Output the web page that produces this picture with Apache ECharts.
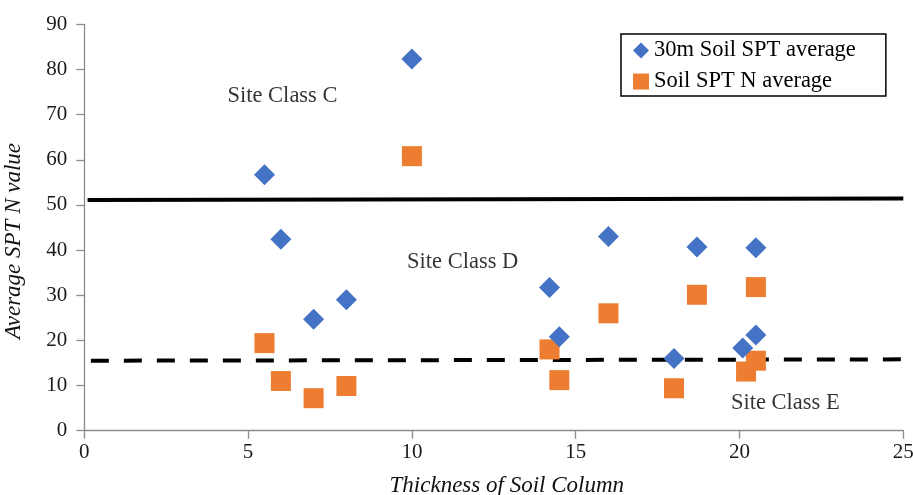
<!DOCTYPE html>
<html>
<head>
<meta charset="utf-8">
<script src="https://cdn.jsdelivr.net/npm/echarts@6/dist/echarts.min.js"></script>
<style>
  html, body { margin: 0; padding: 0; background: #fff; }
  #chart { width: 913px; height: 495px; }
</style>
</head>
<body>
<div id="chart"></div>
<script>
// Thickness of soil column (m) vs. average SPT N value
const spt30mAvg = [
  [5.5, 56.7], [6.0, 42.4], [7.0, 24.7], [8.0, 29.0], [10.0, 82.3],
  [14.2, 31.7], [14.5, 20.8], [16.0, 43.0], [18.0, 16.0], [18.7, 40.7],
  [20.1, 18.3], [20.5, 21.2], [20.5, 40.5]
];
const soilNAvg = [
  [5.5, 19.4], [6.0, 11.0], [7.0, 7.2], [8.0, 9.9], [10.0, 60.8],
  [14.2, 18.0], [14.5, 11.2], [16.0, 26.0], [18.0, 9.4], [18.7, 30.1],
  [20.2, 13.1], [20.5, 15.5], [20.5, 31.8]
];
// Site class boundaries (N = 50 and N = 15)
const classCBoundary = [[0.1, 51.1], [25, 51.4]];
const classEBoundary = [[0.2, 15.5], [25, 15.8]];
// Site class labels placed in data coordinates
const classLabels = [
  { value: [6.05, 74.1], name: 'Site Class C' },
  { value: [11.55, 37.4], name: 'Site Class D' },
  { value: [21.4, 6.1], name: 'Site Class E' }
];
const xTicks = [0, 5, 10, 15, 20, 25];
const yTicks = [0, 10, 20, 30, 40, 50, 60, 70, 80, 90];

const serif = '"Liberation Serif", "DejaVu Serif", serif';
const axisGray = '#8c8c8c';

const chart = echarts.init(document.getElementById('chart'), null, { renderer: 'canvas' });
chart.setOption({
  animation: false,
  backgroundColor: '#fff',
  grid: {
    left: 84.3, right: 9.7, top: 24.3, bottom: 64.3,
    containLabel: false, outerBoundsMode: 'none'
  },
  legend: {
    data: ['30m Soil SPT average', 'Soil SPT N average'],
    orient: 'vertical',
    left: 621, top: 34,
    padding: [5, 30, 3, 12],
    itemGap: 8,
    itemWidth: 16, itemHeight: 16,
    borderColor: '#000', borderWidth: 1.5,
    textStyle: { fontFamily: serif, fontSize: 22.5, color: '#000', lineHeight: 22 }
  },
  xAxis: {
    type: 'value',
    min: xTicks[0], max: xTicks[xTicks.length - 1], interval: 5,
    name: 'Thickness of Soil Column',
    nameLocation: 'middle', nameGap: 44,
    nameTextStyle: {
      fontFamily: serif, fontSize: 23, fontStyle: 'italic', color: '#111',
      padding: [0, 0, 0, 26]
    },
    axisLine: { show: true, onZero: false, lineStyle: { color: axisGray, width: 1.3 } },
    axisTick: { show: true, length: 8, lineStyle: { color: axisGray, width: 1.3 } },
    axisLabel: { fontFamily: serif, fontSize: 21, color: '#1a1a1a', margin: 11 },
    splitLine: { show: false }
  },
  yAxis: {
    type: 'value',
    min: yTicks[0], max: yTicks[yTicks.length - 1], interval: 10,
    name: 'Average SPT N value',
    nameLocation: 'middle', nameGap: 59,
    nameTextStyle: {
      fontFamily: serif, fontSize: 23, fontStyle: 'italic', color: '#111',
      padding: [0, 27, 0, 0]
    },
    axisLine: { show: true, lineStyle: { color: axisGray, width: 1.3 } },
    axisTick: { show: true, length: 8, lineStyle: { color: axisGray, width: 1.3 } },
    axisLabel: { fontFamily: serif, fontSize: 21, color: '#1a1a1a', margin: 17 },
    splitLine: { show: false }
  },
  series: [
    {
      name: 'classC', type: 'line', data: classCBoundary, symbol: 'none',
      lineStyle: { color: '#000', width: 4 }, silent: true, z: 1
    },
    {
      name: 'classE', type: 'line', data: classEBoundary, symbol: 'none',
      lineStyle: { color: '#000', width: 4, type: [18, 15] }, silent: true, z: 1
    },
    {
      name: '30m Soil SPT average', type: 'scatter', data: spt30mAvg,
      symbol: 'diamond', symbolSize: [21, 21],
      itemStyle: { color: '#4472C4', opacity: 1 }, z: 3
    },
    {
      name: 'Soil SPT N average', type: 'scatter', data: soilNAvg,
      symbol: 'rect', symbolSize: [20, 20],
      itemStyle: { color: '#ED7D31', opacity: 1 }, z: 2
    },
    {
      name: 'labels', type: 'scatter', data: classLabels,
      symbolSize: 0, silent: true, z: 4,
      label: {
        show: true, position: 'inside', formatter: '{b}',
        fontFamily: serif, fontSize: 22.5, color: '#000'
      }
    }
  ]
});
</script>
</body>
</html>
